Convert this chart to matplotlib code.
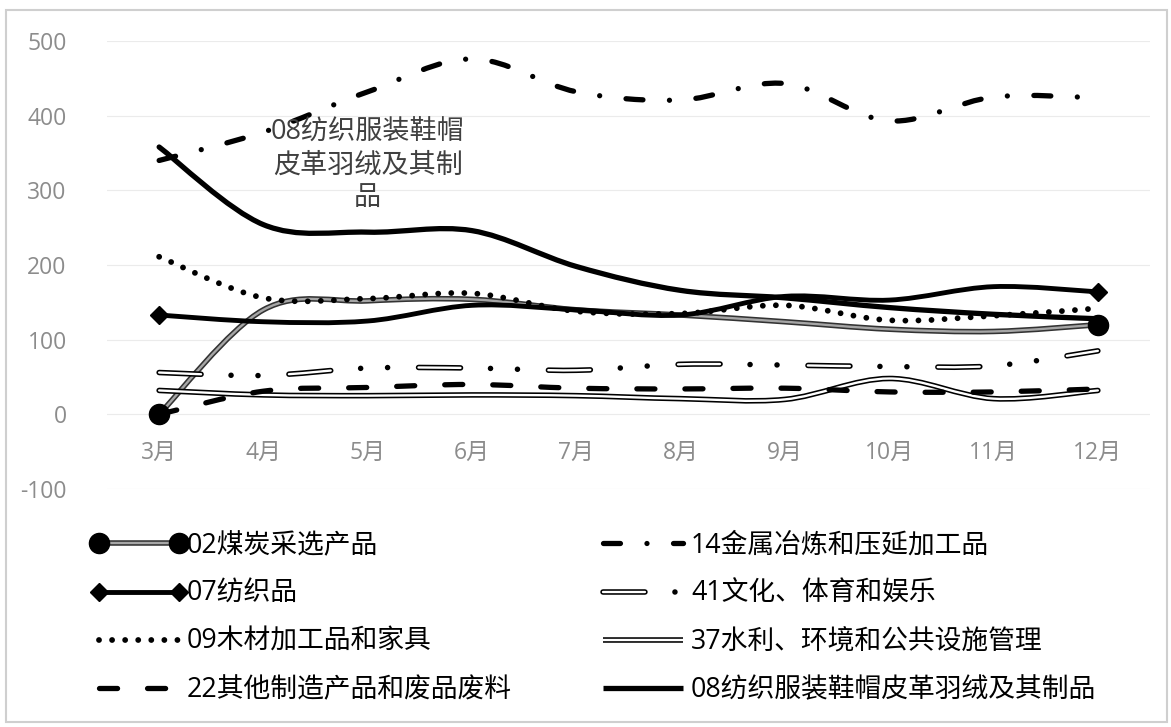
import numpy as np
import matplotlib
matplotlib.use("Agg")
import matplotlib.pyplot as plt
from matplotlib.path import Path
from matplotlib.patches import PathPatch, Rectangle
from matplotlib.lines import Line2D
from matplotlib.legend_handler import HandlerLine2D

plt.rcParams['font.family'] = ['Open Sans', 'Noto Sans CJK SC']
plt.rcParams['lines.scale_dashes'] = False
plt.rcParams['axes.unicode_minus'] = False

# monthly values per industry
months = ['3月', '4月', '5月', '6月', '7月', '8月', '9月', '10月', '11月', '12月']
coal_02 = [0, 140, 152, 154, 140, 133, 124, 114, 111, 120]
metal_14 = [340, 378, 432, 476, 432, 421, 443, 393, 425, 424]
textile_07 = [133, 124, 125, 146, 140, 133, 158, 153, 171, 164]
culture_41 = [56, 52, 62, 62, 59, 67, 66, 64, 65, 85]
wood_09 = [211, 156, 155, 162, 138, 135, 146, 126, 132, 142]
water_37 = [32, 26, 25, 26, 25, 21, 20, 48, 21, 32]
other_22 = [0, 31, 36, 40, 35, 34, 35, 30, 30, 34]
apparel_08 = [358, 254, 244, 246, 198, 166, 156, 143, 134, 128]

yticks = [-100, 0, 100, 200, 300, 400, 500]
callout = '08纺织服装鞋帽\n皮革羽绒及其制\n品'


def smooth_path(vals):
    # Excel-like smoothed line: cubic Bezier through every point
    pts = np.column_stack([np.arange(len(vals)), np.asarray(vals, float)])
    ext = np.vstack([pts[0], pts, pts[-1]])
    verts = [pts[0]]
    codes = [Path.MOVETO]
    for i in range(len(pts) - 1):
        p0, p1, p2, p3 = ext[i], ext[i + 1], ext[i + 2], ext[i + 3]
        verts += [p1 + (p2 - p0) / 6, p2 - (p3 - p1) / 6, p2]
        codes += [Path.CURVE4] * 3
    return Path(verts, codes)


# each series is drawn as one or more stacked strokes
DOT = (0, (0.01, 9.4))
DASH = (0, (13, 21.6))
DASHDOT = (0, (12.2, 19.1, 0.01, 19.1))
DASHDOTDOT_OUT = (0, (30.2, 21.6, 0.01, 19.4, 0.01, 22.3))
DASHDOTDOT_IN = (0, (30.2, 63.3))

series = [
    ('02煤炭采选产品', coal_02, [('#333333', 4.0, '-'), ('#a6a6a6', 1.7, '-')], 'o'),
    ('14金属冶炼和压延加工品', metal_14, [('black', 3.8, DASHDOT)], None),
    ('07纺织品', textile_07, [('black', 3.5, '-')], 'D'),
    ('41文化、体育和娱乐', culture_41, [('black', 4.0, DASHDOTDOT_OUT), ('white', 1.7, DASHDOTDOT_IN)], None),
    ('09木材加工品和家具', wood_09, [('black', 4.2, DOT)], None),
    ('37水利、环境和公共设施管理', water_37, [('black', 4.0, '-'), ('white', 1.7, '-')], None),
    ('22其他制造产品和废品废料', other_22, [('black', 3.8, DASH)], None),
    ('08纺织服装鞋帽皮革羽绒及其制品', apparel_08, [('black', 3.8, '-')], None),
]
marker_size = {'o': 14.5, 'D': 9.2}

fig = plt.figure(figsize=(11.71, 7.27), dpi=100)
ax = fig.add_axes([107 / 1171, 1 - 489 / 727, 1043 / 1171, 448 / 727])
ax.set_xlim(-0.5, 9.5)
ax.set_ylim(-100, 500)

for y in yticks:
    ax.axhline(y, color='#ebebeb', lw=0.8, zorder=0)

handles = {}
for z, (name, vals, layers, mk) in enumerate(series):
    path = smooth_path(vals)
    parts = []
    for color, lw, ls in layers:
        ax.add_patch(PathPatch(path, facecolor='none', edgecolor=color, lw=lw,
                               linestyle=ls, capstyle='round', joinstyle='round',
                               zorder=2 + z * 0.1))
        parts.append(Line2D([], [], color=color, lw=lw, linestyle=ls,
                            dash_capstyle='round', solid_capstyle='butt'))
    if mk:
        ends = [0, len(vals) - 1]
        ax.plot(ends, [vals[i] for i in ends], linestyle='none', marker=mk,
                ms=marker_size[mk], color='black', zorder=2 + z * 0.1 + 0.05)
        parts.append(Line2D([], [], linestyle='none', marker=mk,
                            ms=marker_size[mk], color='black'))
    handles[name] = tuple(parts)

ax.text(2, 333, callout, ha='center', va='center', fontsize=19.5,
        color='#404040', linespacing=1.25, zorder=5)

for s in ax.spines.values():
    s.set_visible(False)
ax.spines['bottom'].set_position(('data', 0))
ax.set_xticks(range(len(months)), months)
ax.set_yticks(yticks, [str(v) for v in yticks])
ax.tick_params(axis='both', length=0, labelsize=16.5, labelcolor='#8c8c8c')
ax.tick_params(axis='x', pad=19)
ax.tick_params(axis='y', pad=29)

names = [s[0] for s in series]
left_col = [names[i] for i in (0, 2, 4, 6)]
right_col = [names[i] for i in (1, 3, 5, 7)]
hmap = {Line2D: HandlerLine2D(marker_pad=0)}
opts = dict(loc='center left', frameon=False, fontsize=19.3, numpoints=2,
            handlelength=3.0, handletextpad=0.28, labelspacing=0.75,
            borderpad=0, borderaxespad=0, handler_map=hmap,
            bbox_transform=fig.transFigure)
leg1 = ax.legend([handles[n] for n in left_col], left_col,
                 bbox_to_anchor=(99 / 1171, 1 - 618 / 727), **opts)
ax.add_artist(leg1)
ax.legend([handles[n] for n in right_col], right_col,
          bbox_to_anchor=(603 / 1171, 1 - 618 / 727), **opts)

fig.patches.append(Rectangle((6 / 1171, 5 / 727), 1161 / 1171, 712 / 727,
                             transform=fig.transFigure, fill=False,
                             edgecolor='#cfcfcf', lw=1.5))

fig.savefig('out.png', dpi=100)
